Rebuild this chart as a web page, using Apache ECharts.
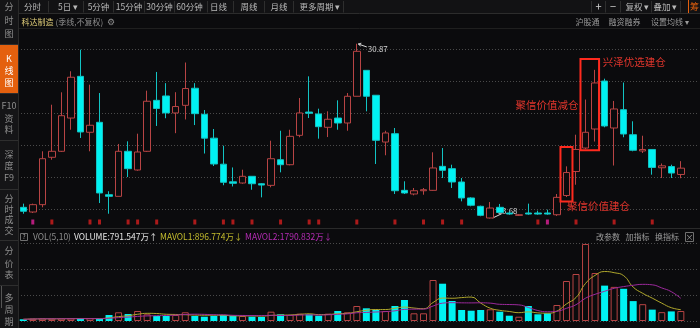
<!DOCTYPE html>
<html><head><meta charset="utf-8">
<script src="https://cdn.jsdelivr.net/npm/echarts@6/dist/echarts.min.js"></script>
<style>html,body{margin:0;padding:0;background:#0b0b0d;}#c{width:700px;height:328px;}</style>
</head><body><div id="c"></div>
<script>
// ---- data (quarterly K-line, 科达制造, 不复权) ----
const opens  = [14.78,14.32,15.04,19.70,20.29,23.56,27.66,22.16,23.14,16.02,15.86,20.29,18.45,20.29,25.30,25.73,24.06,24.81,26.49,23.93,21.58,19.02,17.29,17.17,17.83,17.10,16.94,19.46,18.97,21.86,24.15,23.96,22.65,23.56,23.07,25.70,28.25,25.80,21.20,22.02,16.45,16.09,16.41,16.45,18.81,18.58,17.27,15.70,14.88,13.73,14.78,14.22,13.99,14.22,14.22,14.22,14.05,15.94,18.30,20.61,22.48,27.20,22.58,24.38,21.92,20.32,20.47,18.67,18.79,18.01];
const closes = [14.39,15.04,19.56,20.29,23.79,27.57,22.19,22.85,16.19,15.86,20.29,18.58,20.22,25.21,24.50,24.06,24.69,26.46,23.99,21.58,19.04,17.24,17.14,17.83,17.10,16.97,19.56,18.97,21.76,24.06,24.03,22.71,23.44,23.07,25.70,30.12,25.70,21.37,22.09,16.41,16.19,16.41,16.51,18.65,18.42,17.27,15.70,14.98,13.99,14.71,14.27,14.12,14.05,14.12,14.12,14.12,15.76,18.20,20.47,22.16,27.01,22.78,24.45,21.99,20.39,20.47,18.70,18.86,18.15,18.63];
const highs  = [15.14,15.14,20.29,24.87,26.09,28.16,30.28,26.84,26.02,16.36,21.01,21.27,22.02,26.25,28.09,26.99,26.10,29.02,26.99,24.35,22.48,20.84,18.70,18.48,17.83,17.17,21.33,22.31,22.41,25.53,27.66,24.48,24.22,25.30,26.02,30.87,28.25,25.80,22.31,22.58,17.34,16.68,16.68,20.19,20.61,18.97,17.66,15.77,14.94,15.30,15.11,14.39,14.12,15.14,14.45,14.55,16.09,18.81,21.92,25.38,28.30,27.43,25.24,27.05,23.24,21.82,20.47,19.09,18.97,19.32];
const lows   = [14.15,14.22,14.78,19.46,20.22,22.41,21.60,20.29,15.20,14.15,15.86,17.76,18.38,20.22,22.78,23.54,22.07,23.42,22.87,20.07,18.84,16.95,16.83,17.10,16.51,15.76,16.75,18.22,18.91,21.67,23.56,21.53,21.69,22.41,22.31,25.70,24.22,19.04,19.90,16.09,16.09,15.96,16.02,16.41,17.66,16.68,15.37,14.88,13.90,13.68,14.22,14.05,13.93,14.05,14.05,14.05,13.93,15.79,17.00,20.51,21.25,22.65,18.89,21.67,20.29,20.12,17.99,17.66,17.66,17.64];
// volume, 万股
const volumes = [135,182,198,182,198,198,198,214,158,475,689,554,792,530,396,396,475,689,396,340,396,475,420,396,340,317,736,530,475,578,530,420,578,792,689,1187,1005,871,792,1187,1662,609,609,3245,2952,1583,871,815,871,926,736,420,340,1187,530,609,1266,3166,3720,6095,3800,2800,2700,2550,1575,1332,900,700,760,791.547];
const categories = opens.map((_, i) => 'Q' + (i + 1));
const signalRed  = [3,7,8,11,12,14,18,21,22,24,27,30,31,35,39,42,44,46,54,58,62,66];
const signalPink = [1,55];
const volHeader = ['VOL(5,10)', 'VOLUME:791.547万↑', 'MAVOL1:896.774万↓', 'MAVOL2:1790.832万↓'];
// annotation boxes: candle-index range and price range
const annoBoxes = [
  {from: 56.37, to: 57.63, hi: 20.71, lo: 15.35},
  {from: 58.47, to: 60.42, hi: 29.37, lo: 20.39}
];
const annoTexts = ['聚信价值建仓', '聚信价值减仓', '兴泽优选建仓'];

// ---- chart ----
const BG = '#0b0b0d', UP = '#b84444', DN = '#00f2f2', DNW = '#12c4c4';
const FONT = '"Noto Sans CJK SC","Noto Sans",sans-serif';
const ma = (arr, n) => arr.map((_, i) => { const s = arr.slice(Math.max(0, i - n + 1), i + 1); return s.reduce((a, b) => a + b, 0) / s.length; });
const isUp = i => closes[i] >= opens[i];
const GL = 18.5, GW = 667.1;
const dotted = {show: true, lineStyle: {color: '#4a4a4a', type: [1, 2], width: 1}};

const chart = echarts.init(document.getElementById('c'), null, {renderer: 'canvas'});
const hiddenCat = gi => ({type: 'category', gridIndex: gi, data: categories, show: false, boundaryGap: true});
const option = {
  backgroundColor: BG,
  animation: false,
  grid: [
    {left: GL, top: 38, width: GW, height: 184},          // candles
    {left: 18, top: 49.7, right: 3, height: 159.6},        // main dotted lines
    {left: GL, top: 219, width: GW, height: 6},            // signal markers
    {left: GL, top: 243, width: GW, height: 78},           // volume
    {left: 18, top: 243.3, right: 3, height: 78}           // volume dotted lines
  ],
  xAxis: [
    hiddenCat(0),
    {type: 'value', gridIndex: 1, show: false},
    hiddenCat(2),
    hiddenCat(3),
    {type: 'value', gridIndex: 4, show: false}
  ],
  yAxis: [
    {type: 'value', gridIndex: 0, min: 13.3358, max: 31.4305, show: false, splitLine: {show: false}},
    {type: 'value', gridIndex: 1, min: 0, max: 5, interval: 1, axisLine: {show: false}, axisTick: {show: false}, axisLabel: {show: false}, splitLine: dotted},
    {type: 'value', gridIndex: 2, min: -1, max: 1, show: false, splitLine: {show: false}},
    {type: 'value', gridIndex: 3, min: 0, max: 6174, show: false, splitLine: {show: false}},
    {type: 'value', gridIndex: 4, min: 0, max: 3, interval: 1, axisLine: {show: false}, axisTick: {show: false}, axisLabel: {show: false}, splitLine: dotted}
  ],
  series: [
    {type: 'candlestick', xAxisIndex: 0, yAxisIndex: 0, barWidth: 7, z: 3,
      data: categories.map((_, i) => [opens[i], closes[i], lows[i], highs[i]]),
      itemStyle: {color: BG, color0: DN, borderColor: UP, borderColor0: DNW, borderWidth: 1}},
    {type: 'scatter', xAxisIndex: 2, yAxisIndex: 2, symbol: 'rect', symbolSize: [3, 5],
      data: signalRed.map(i => [i, 0]), itemStyle: {color: '#d41e1e'}},
    {type: 'scatter', xAxisIndex: 2, yAxisIndex: 2, symbol: 'rect', symbolSize: [3, 5],
      data: signalPink.map(i => [i, 0]), itemStyle: {color: '#e0209a'}},
    {type: 'bar', xAxisIndex: 3, yAxisIndex: 3, barWidth: 7, z: 3,
      data: volumes.map((v, i) => ({value: v, itemStyle: isUp(i) ? {color: BG, borderColor: UP, borderWidth: 1} : {color: DN}}))},
    {type: 'line', xAxisIndex: 3, yAxisIndex: 3, data: ma(volumes, 5), smooth: true, showSymbol: false, z: 4,
      lineStyle: {color: '#b0a82c', width: 1}},
    {type: 'line', xAxisIndex: 3, yAxisIndex: 3, data: ma(volumes, 10), smooth: true, showSymbol: false, z: 4,
      lineStyle: {color: '#9c2a9c', width: 1}}
  ]
};
chart.setOption(option);

// ---- chrome & annotations ----
const g = [];
const T = (x, y, text, fill, size, align, z, extra) => g.push(Object.assign({type: 'text', z: z || 50, style: {
  x, y, text, fill, font: size + 'px ' + FONT, textAlign: align || 'center', textVerticalAlign: 'middle',
  align: align || 'center', verticalAlign: 'middle'}}, extra || {}));
const L = (x1, y1, x2, y2, stroke, w, z) => g.push({type: 'line', z: z || 50, shape: {x1, y1, x2, y2}, style: {stroke, lineWidth: w || 1}});
const R = (x, y, w, h, style, z) => g.push({type: 'rect', z: z || 49, shape: {x, y, width: w, height: h}, style});

// sidebar
R(0, 0, 18, 328, {fill: '#151517'}, 40);
R(0, 45, 18, 48.5, {fill: '#e4600e'}, 41);
L(18.5, 0, 18.5, 328, '#2a2a2a', 1, 42);
[44.5, 93.5, 140.5, 189.5, 240.5, 285.5].forEach(y => L(0, y, 18, y, '#2e2e2e', 1, 42));
const side = [['分', 7], ['时', 21], ['图', 34], ['F10', 105.7], ['资', 118.3], ['料', 130], ['深', 154.3], ['度', 166], ['F9', 177.7],
  ['分', 198.3], ['时', 209.3], ['成', 220], ['交', 231], ['分', 251], ['价', 263.3], ['表', 275], ['多', 297.7], ['周', 310], ['期', 321.7]];
side.forEach(([t, y]) => T(9, y, t, '#8e8e8e', 9, 'center', 45));
[['K', 58.3], ['线', 70.7], ['图', 82.3]].forEach(([t, y]) => T(9, y, t, '#ffffff', 9, 'center', 45));
L(1.5, 286, 1.5, 308, '#555', 1, 45);

// top toolbar
R(19, 0, 681, 13, {fill: '#121214'}, 40);
L(19, 13.5, 700, 13.5, '#2c2c2c', 1, 42);
L(19, 28.5, 700, 28.5, '#1f1f1f', 1, 42);
const tabs = [['分时', 32.5], ['5日 ▾', 68], ['5分钟', 98.5], ['15分钟', 129], ['30分钟', 159.5], ['60分钟', 189.5], ['日线', 218.5], ['周线', 249], ['月线', 279], ['更多周期 ▾', 320]];
tabs.forEach(([t, x]) => T(x, 6.5, t, '#b8b8b8', 8.5));
[48.5, 83.5, 113.5, 144.5, 174.5, 207.5, 233.5, 264.5, 293.5, 343.5].forEach(x => L(x, 1, x, 12.5, '#2e2e2e', 1, 42));
T(598.5, 6.5, '+', '#cfcfcf', 11);
T(613, 6.5, '−', '#cfcfcf', 11);
T(637.5, 6.5, '复权 ▾', '#b8b8b8', 8.5);
T(665.5, 6.5, '叠加 ▾', '#b8b8b8', 8.5);
[591.5, 605.5, 620.5, 651.5, 680.5].forEach(x => L(x, 1, x, 12.5, '#2e2e2e', 1, 42));
L(688.5, 0, 688.5, 13, '#e4600e', 1, 42);
T(690, 6.5, '筹', '#e4600e', 9, 'left');

// info row
T(21.5, 21.5, '科达制造', '#e2cf7a', 8, 'left');
T(55.5, 21.5, '(季线,不复权)', '#8c8c8c', 8, 'left');
T(111, 21.5, '⚙', '#8c8c8c', 9, 'center', 50);
T(587.5, 21.5, '沪股通', '#9a9a9a', 8);
T(624.5, 21.5, '融资融券', '#9a9a9a', 8);
T(670, 21.5, '设置均线 ▾', '#9a9a9a', 8);

// panel separator & volume header
L(19, 228.5, 700, 228.5, '#2a2a2a', 1, 42);
R(20.5, 233.5, 7, 7, {fill: 'none', stroke: '#707070', lineWidth: 1}, 50);
T(24, 237, '?', '#9a9a9a', 6.5);
T(33, 236.7, volHeader[0], '#8e8e8e', 8.5, 'left');
T(74, 236.7, volHeader[1], '#e6e6e6', 8.5, 'left');
T(160, 236.7, volHeader[2], '#c6be2e', 8.5, 'left');
T(245, 236.7, volHeader[3], '#b52cb5', 8.5, 'left');
T(608, 236.7, '改参数', '#9a9a9a', 8);
T(637.5, 236.7, '加指标', '#9a9a9a', 8);
T(667, 236.7, '换指标', '#9a9a9a', 8);
R(685.5, 232.5, 8, 9, {fill: 'none', stroke: '#707070', lineWidth: 1}, 50);
T(689.5, 237, '×', '#9a9a9a', 8);

// extreme price labels
const P = (i, p) => chart.convertToPixel({gridIndex: 0}, [i, p]);
let hiI = 0, loI = 0;
highs.forEach((h, i) => { if (h > highs[hiI]) hiI = i; });
lows.forEach((l, i) => { if (l < lows[loI]) loI = i; });
const [hx, hy] = P(hiI, highs[hiI]);
L(hx + 1.5, hy + 0.3, hx + 10, hy + 3.3, '#d8d8d8', 1, 60);
L(hx + 1.5, hy + 0.3, hx + 4.5, hy - 0.5, '#d8d8d8', 1, 60);
L(hx + 1.5, hy + 0.3, hx + 3.8, hy + 2.4, '#d8d8d8', 1, 60);
T(hx + 11, hy + 5.3, highs[hiI].toFixed(2), '#d2d2d2', 8, 'left', 60);
const [lx, ly] = P(loI, lows[loI]);
L(lx + 2.5, ly - 0.5, lx + 11.5, ly - 4.8, '#d8d8d8', 1, 1);
T(lx + 7.3, ly - 7.2, lows[loI].toFixed(2), '#d2d2d2', 8, 'left', 1);

// annotation boxes & labels
const band = P(1, 20)[0] - P(0, 20)[0];
const bx = annoBoxes.map(b => {
  const x1 = P(0, b.hi)[0] + b.from * band, x2 = P(0, b.hi)[0] + b.to * band;
  const y1 = P(0, b.hi)[1], y2 = P(0, b.lo)[1];
  R(x1, y1, x2 - x1, y2 - y1, {fill: 'none', stroke: '#ff2a1e', lineWidth: 2}, 70);
  return {x1, x2, y1, y2};
});
T(bx[0].x1 + 6.6, bx[0].y2 + 4.2, annoTexts[0], '#e0352c', 10.5, 'left', 70);
T(bx[1].x1 - 2, 105.5, annoTexts[1], '#e0352c', 10.5, 'right', 70);
T(bx[1].x2 + 3.7, bx[1].y1 + 3.5, annoTexts[2], '#e0352c', 10.5, 'left', 70);

chart.setOption({graphic: {elements: g}});
</script></body></html>
